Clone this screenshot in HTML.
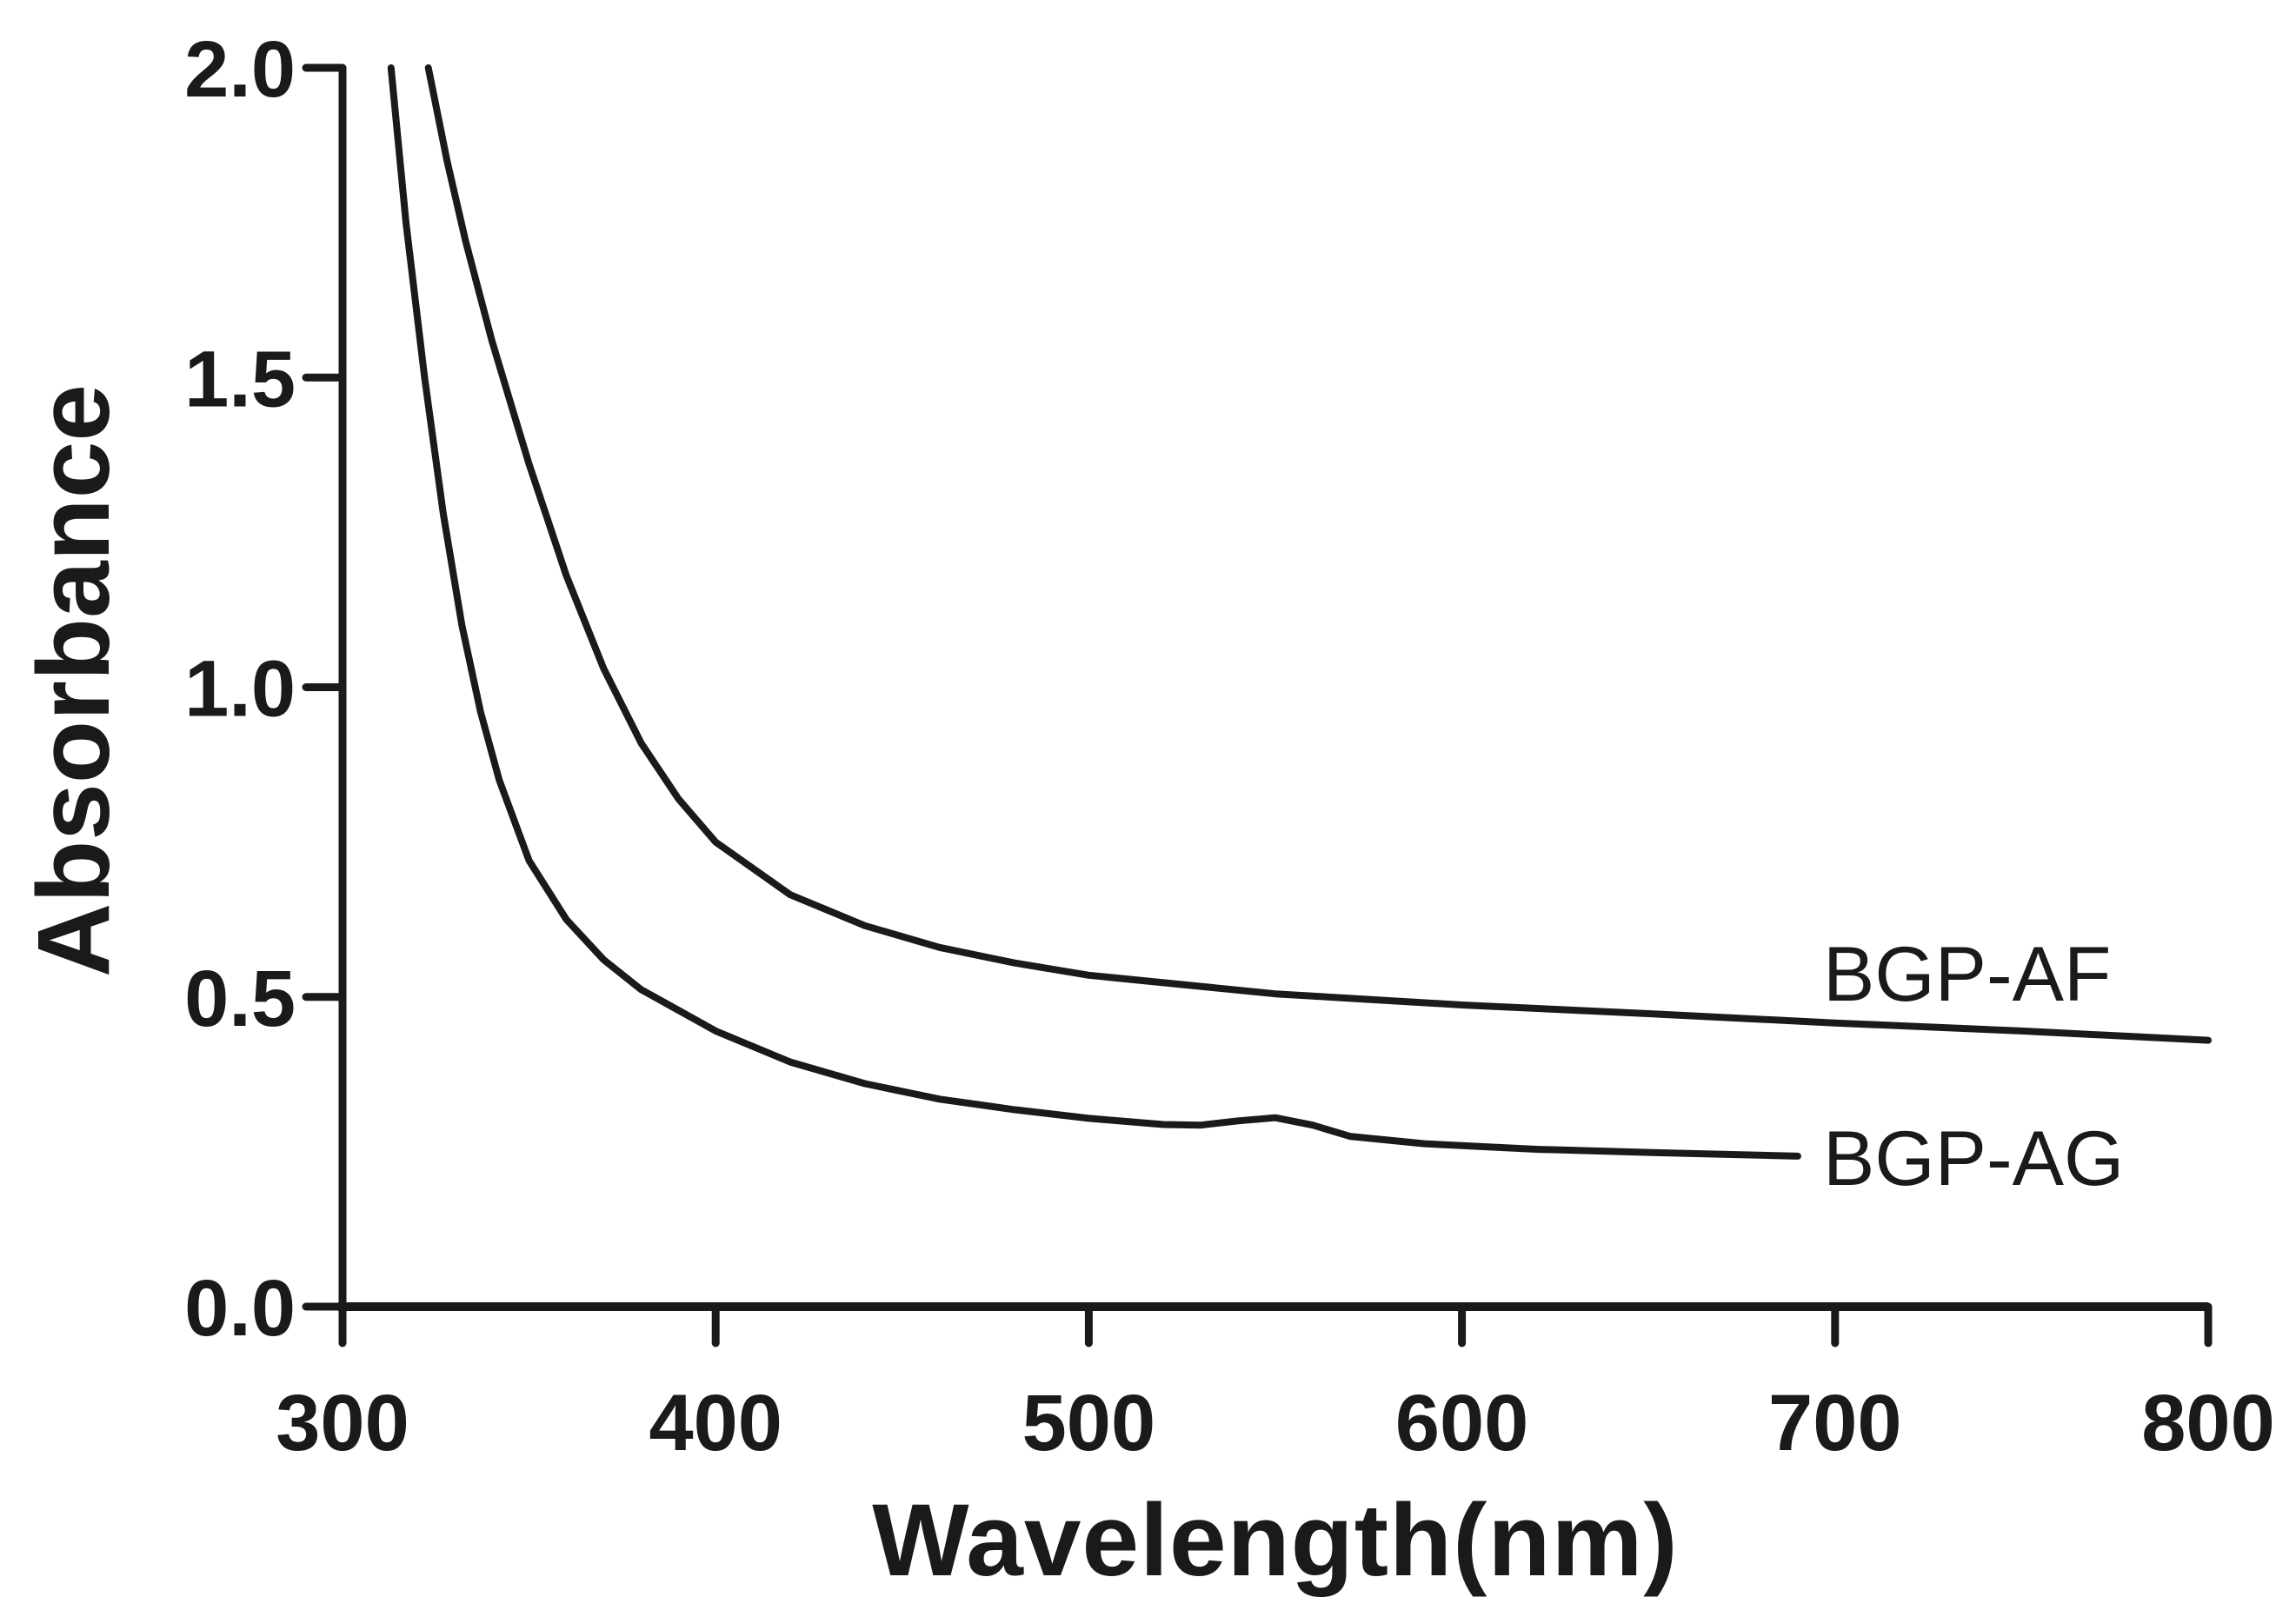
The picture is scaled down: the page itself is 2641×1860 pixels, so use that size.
<!DOCTYPE html>
<html><head><meta charset="utf-8"><style>
html,body{margin:0;padding:0;background:#fff;}
svg{display:block;}
text{font-family:"Liberation Sans",Arial,sans-serif;fill:#1a1a1a;}
</style></head><body>
<svg id="chart" width="2641" height="1860" viewBox="0 0 2641 1860" xmlns="http://www.w3.org/2000/svg">
<g id="axes"></g>
<g id="series"></g>
<text x="1467" y="1812" text-anchor="middle" font-size="118" font-weight="bold" letter-spacing="1">Wavelength(nm)</text>
<text transform="translate(125,783) rotate(-90)" text-anchor="middle" font-size="118" font-weight="bold">Absorbance</text>
</svg>
<script>
const xTicks = [300, 400, 500, 600, 700, 800];
const yTicks = [0.0, 0.5, 1.0, 1.5, 2.0];
const yTickLabels = ["0.0", "0.5", "1.0", "1.5", "2.0"];
const afWavelength = [323, 328, 333, 340, 345, 350, 355, 360, 370, 380, 390, 400, 420, 440, 460, 480, 500, 550, 600, 650, 700, 750, 800];
const afAbsorbance = [2.0, 1.85, 1.72, 1.56, 1.46, 1.36, 1.27, 1.18, 1.03, 0.91, 0.82, 0.75, 0.665, 0.615, 0.58, 0.555, 0.535, 0.505, 0.487, 0.473, 0.458, 0.445, 0.43];
const agWavelength = [313, 317, 322, 327, 332, 337, 342, 350, 360, 370, 380, 400, 420, 440, 460, 480, 500, 520, 530, 540, 550, 560, 570, 590, 620, 650, 690];
const agAbsorbance = [2.0, 1.75, 1.5, 1.28, 1.1, 0.96, 0.85, 0.72, 0.625, 0.56, 0.512, 0.445, 0.395, 0.36, 0.335, 0.318, 0.304, 0.294, 0.293, 0.3, 0.305, 0.293, 0.275, 0.263, 0.254, 0.249, 0.243];
const seriesLabels = ["BGP-AF", "BGP-AG"];

const X0 = 394, X1 = 2540, Y0 = 1503, Y1 = 78;
function xs(v){ return X0 + (v - 300) / 500 * (X1 - X0); }
function ys(v){ return Y0 - v / 2 * (Y0 - Y1); }
const NS = "http://www.w3.org/2000/svg";
const axes = document.getElementById('axes');
const series = document.getElementById('series');
function mk(tag, attrs, parent){
  const e = document.createElementNS(NS, tag);
  for (const k in attrs) e.setAttribute(k, attrs[k]);
  parent.appendChild(e); return e;
}
const yAxis = mk('line', {x1: X0, y1: Y1, x2: X0, y2: Y0 + 5, stroke: '#1a1a1a', 'stroke-width': 9}, axes);


const xAxis = mk('line', {x1: X0 - 5, y1: Y0, x2: X1, y2: Y0, stroke: '#1a1a1a', 'stroke-width': 10}, axes);


yTicks.forEach((v, i) => {
  const t = mk('line', {x1: X0 - 42, y1: ys(v), x2: X0, y2: ys(v), stroke: '#1a1a1a', 'stroke-width': 9, 'stroke-linecap': 'round'}, axes);
  
  
  const l = mk('text', {x: 340, y: ys(v) + 33, 'text-anchor': 'end', 'font-size': 92, 'font-weight': 'bold'}, axes);
  l.textContent = yTickLabels[i];
  
  
});
xTicks.forEach(v => {
  const t = mk('line', {x1: xs(v), y1: Y0, x2: xs(v), y2: Y0 + 42, stroke: '#1a1a1a', 'stroke-width': 9, 'stroke-linecap': 'round'}, axes);
  
  
  const l = mk('text', {x: xs(v), y: 1668, 'text-anchor': 'middle', 'font-size': 92, 'font-weight': 'bold'}, axes);
  l.textContent = String(v);
  
  
});
function drawLine(xsArr, ysArr){
  const pts = xsArr.map((x, i) => xs(x).toFixed(1) + ',' + ys(ysArr[i]).toFixed(1)).join(' ');
  return mk('polyline', {points: pts, fill: 'none', stroke: '#1a1a1a', 'stroke-width': 8, 'stroke-linejoin': 'round', 'stroke-linecap': 'round'}, series);
}
const af = drawLine(afWavelength, afAbsorbance);


const ag = drawLine(agWavelength, agAbsorbance);


const afLabel = mk('text', {x: 2097, y: 1151, 'font-size': 89}, series);
afLabel.textContent = seriesLabels[0];


const agLabel = mk('text', {x: 2097, y: 1363, 'font-size': 89}, series);
agLabel.textContent = seriesLabels[1];


</script>
</body></html>
